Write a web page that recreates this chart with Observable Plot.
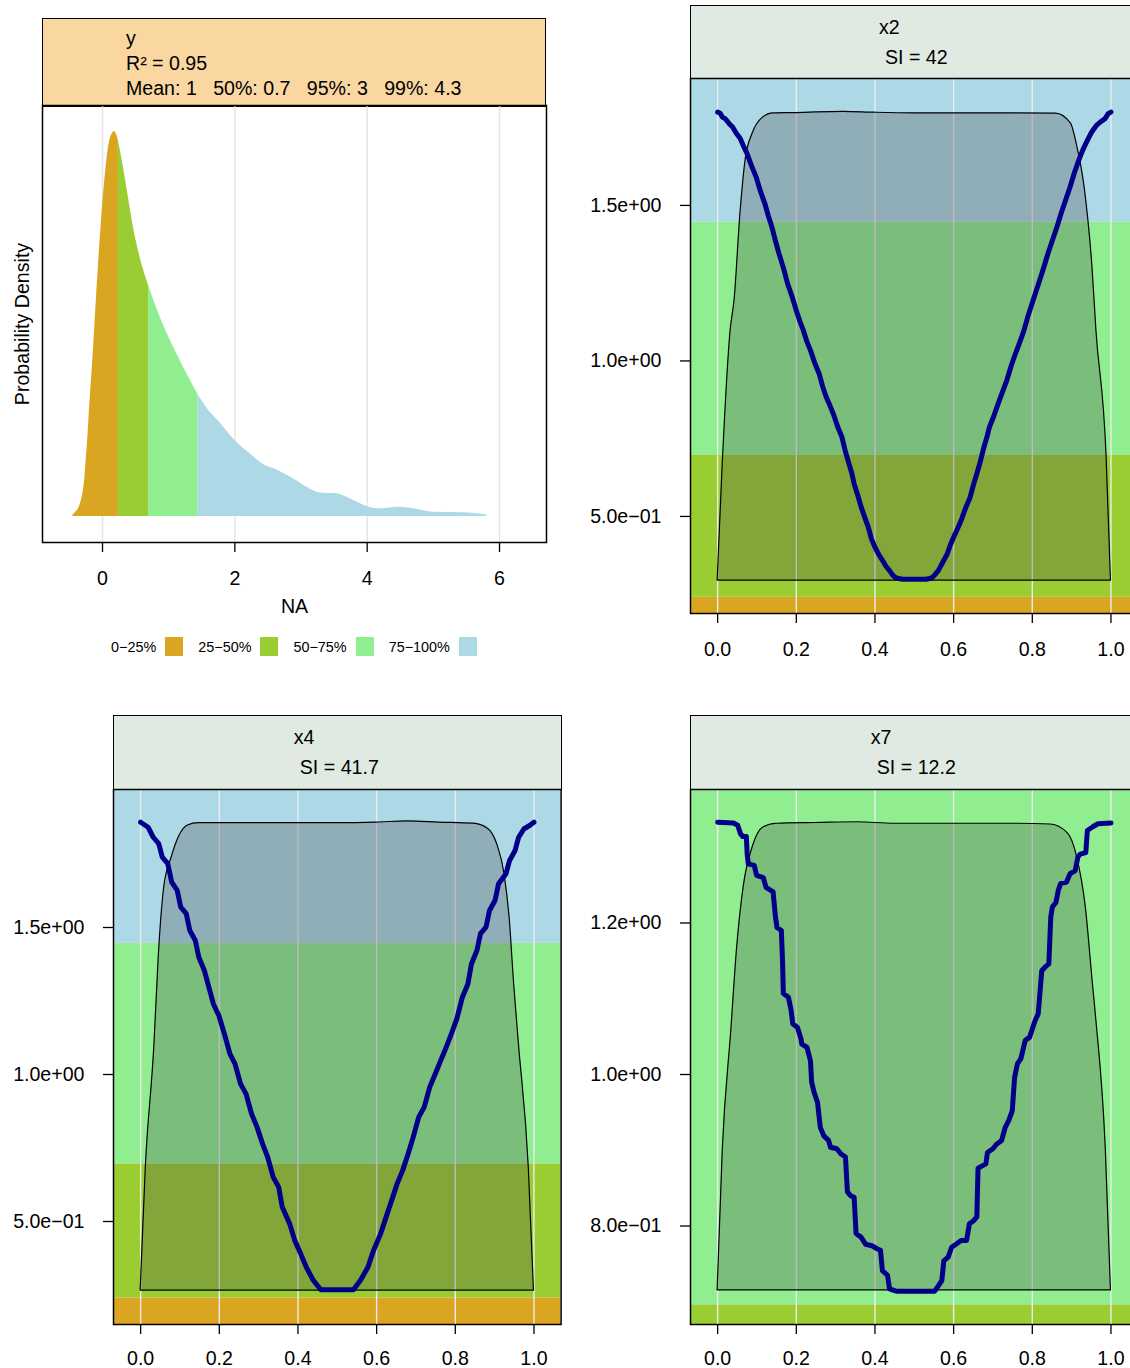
<!DOCTYPE html>
<html>
<head>
<meta charset="utf-8">
<script src="https://cdn.jsdelivr.net/npm/d3@7"></script>
<script src="https://cdn.jsdelivr.net/npm/@observablehq/plot@0.6"></script>
<style>
  html, body { margin: 0; padding: 0; background: #fff; overflow: hidden; }
  #root { position: relative; width: 1130px; height: 1368px; overflow: hidden;
          font-family: "Liberation Sans", Arial, sans-serif; color: #000; }
  #root svg { position: absolute; overflow: visible; }
  .hdr { position: absolute; box-sizing: border-box; border: 1.5px solid #000; }
  .txt { position: absolute; white-space: pre; font-size: 19.6px; line-height: 19.6px; }
  .legend { position: absolute; display: flex; align-items: center; height: 19px; font-size: 14.4px; }
  .legend .sw { width: 18px; height: 19px; margin-left: 9px; margin-right: 15px; }
</style>
</head>
<body>
<div id="root"></div>
<script>
// ---------------- data ----------------
// quantiles of y (0%, 25%, 50%, 75%, 100%)
const quantiles = [-0.45, 0.24, 0.696, 1.446, 5.81];
const quantileLabels = ["0\u221225%", "25\u221250%", "50\u221275%", "75\u2212100%"];
const quantileColors = ["#DAA520", "#9ACD32", "#90EE90", "#ADD8E6"];

// density of y : [y value, relative density]
const densityPoints = [
  [-0.450,0.000],[-0.440,0.005],[-0.410,0.010],[-0.364,0.020],[-0.330,0.035],[-0.298,0.059],
  [-0.270,0.095],[-0.248,0.145],[-0.220,0.210],[-0.198,0.275],[-0.147,0.405],[-0.097,0.552],
  [-0.047,0.691],[0.004,0.812],[0.054,0.907],[0.104,0.972],[0.150,0.995],[0.180,1.000],
  [0.210,0.993],[0.240,0.977],[0.316,0.907],[0.391,0.829],[0.467,0.751],[0.568,0.673],
  [0.696,0.600],[0.870,0.518],[1.072,0.440],[1.274,0.371],[1.446,0.316],[1.576,0.282],
  [1.777,0.243],[2.004,0.197],[2.231,0.163],[2.432,0.135],[2.634,0.121],[2.885,0.098],
  [3.087,0.076],[3.289,0.061],[3.541,0.059],[3.742,0.046],[3.994,0.026],[4.195,0.020],
  [4.497,0.024],[4.699,0.020],[5.000,0.011],[5.454,0.010],[5.810,0.004]
];
const densityTicks = [0, 2, 4, 6];
const densityXLabel = "NA";
const densityYLabel = "Probability Density";
const responseName = "y";
const rSquared = 0.95;
const responseMean = 1;
const responseQ50 = 0.7;
const responseQ95 = 3;
const responseQ99 = 4.3;

const xTicks = [0, 0.2, 0.4, 0.6, 0.8, 1.0];
const panelNames = ["x2", "x4", "x7"];
const panelSI = [42, 41.7, 12.2];
const yTicksA = [0.5, 1.0, 1.5];
const yTickLabelsA = ["5.0e\u221201", "1.0e+00", "1.5e+00"];
const yTicksB = [0.8, 1.0, 1.2];
const yTickLabelsB = ["8.0e\u221201", "1.0e+00", "1.2e+00"];

// x2: partial dependence curve and scaled density outline
const x2Curve = [
  [0.000,1.800],[0.006,1.797],[0.012,1.784],[0.020,1.778],[0.030,1.762],[0.038,1.752],[0.047,1.733],
  [0.057,1.716],[0.066,1.690],[0.075,1.666],[0.086,1.628],[0.098,1.591],[0.109,1.545],[0.120,1.506],
  [0.129,1.466],[0.138,1.430],[0.147,1.386],[0.156,1.345],[0.167,1.300],[0.178,1.248],[0.189,1.208],
  [0.200,1.162],[0.210,1.124],[0.218,1.098],[0.227,1.062],[0.236,1.034],[0.247,0.993],[0.258,0.959],
  [0.267,0.918],[0.276,0.884],[0.285,0.858],[0.294,0.830],[0.305,0.789],[0.316,0.755],[0.325,0.708],
  [0.334,0.669],[0.341,0.640],[0.347,0.605],[0.356,0.569],[0.365,0.530],[0.374,0.497],[0.383,0.466],
  [0.391,0.428],[0.400,0.401],[0.410,0.377],[0.419,0.359],[0.428,0.340],[0.437,0.326],[0.446,0.310],
  [0.454,0.302],[0.470,0.298],[0.530,0.298],[0.544,0.302],[0.552,0.312],[0.561,0.326],[0.572,0.352],
  [0.584,0.380],[0.592,0.410],[0.600,0.433],[0.609,0.458],[0.619,0.487],[0.630,0.526],[0.642,0.562],
  [0.650,0.600],[0.659,0.637],[0.668,0.677],[0.677,0.723],[0.684,0.752],[0.691,0.787],[0.702,0.822],
  [0.713,0.862],[0.724,0.900],[0.735,0.937],[0.746,0.983],[0.757,1.023],[0.767,1.056],[0.778,1.095],
  [0.790,1.148],[0.802,1.195],[0.815,1.245],[0.829,1.300],[0.840,1.346],[0.851,1.387],[0.862,1.428],
  [0.873,1.473],[0.885,1.518],[0.896,1.559],[0.907,1.605],[0.918,1.645],[0.929,1.680],[0.940,1.709],
  [0.951,1.736],[0.963,1.757],[0.975,1.770],[0.985,1.779],[0.993,1.795],[1.000,1.800]
];
const x2Outline = [
  [0.000,0.294],[0.013,0.670],[0.033,1.098],[0.043,1.195],[0.058,1.474],[0.071,1.645],[0.089,1.731],
  [0.116,1.783],[0.142,1.796],[0.200,1.797],[0.320,1.801],[0.400,1.798],[0.500,1.796],[0.600,1.796],
  [0.700,1.796],[0.860,1.795],[0.898,1.764],[0.915,1.686],[0.933,1.558],[0.953,1.300],[0.963,1.098],
  [0.989,0.690],[1.000,0.294]
];
const x4Curve = [
  [0.000,1.858],[0.019,1.841],[0.032,1.807],[0.046,1.785],[0.055,1.739],[0.069,1.717],[0.079,1.654],
  [0.093,1.626],[0.102,1.569],[0.116,1.547],[0.125,1.490],[0.139,1.456],[0.148,1.399],[0.162,1.354],
  [0.171,1.309],[0.185,1.240],[0.199,1.200],[0.213,1.138],[0.227,1.070],[0.240,1.036],[0.254,0.968],
  [0.268,0.934],[0.282,0.866],[0.296,0.821],[0.310,0.764],[0.323,0.719],[0.337,0.651],[0.351,0.617],
  [0.360,0.549],[0.379,0.492],[0.392,0.435],[0.407,0.390],[0.421,0.345],[0.439,0.300],[0.458,0.268],
  [0.541,0.268],[0.559,0.300],[0.578,0.345],[0.592,0.401],[0.610,0.458],[0.624,0.515],[0.638,0.571],
  [0.652,0.628],[0.666,0.673],[0.680,0.730],[0.693,0.787],[0.707,0.855],[0.721,0.889],[0.735,0.957],
  [0.749,1.002],[0.763,1.048],[0.777,1.093],[0.790,1.138],[0.804,1.190],[0.818,1.263],[0.832,1.308],
  [0.841,1.376],[0.855,1.422],[0.864,1.479],[0.878,1.501],[0.887,1.558],[0.901,1.592],[0.910,1.649],
  [0.929,1.683],[0.938,1.728],[0.952,1.762],[0.961,1.807],[0.975,1.836],[0.989,1.847],[1.000,1.858]
];
const x4Outline = [
  [0.000,0.265],[0.013,0.680],[0.035,1.100],[0.046,1.400],[0.060,1.637],[0.079,1.739],[0.097,1.807],
  [0.120,1.847],[0.148,1.855],[0.300,1.855],[0.500,1.855],[0.600,1.857],[0.680,1.861],[0.760,1.857],
  [0.846,1.853],[0.883,1.836],[0.906,1.785],[0.925,1.683],[0.938,1.535],[0.950,1.300],[0.962,1.100],
  [0.987,0.680],[1.000,0.265]
];
const x7Curve = [
  [0.000,1.333],[0.040,1.332],[0.051,1.329],[0.058,1.318],[0.064,1.314],[0.073,1.314],[0.075,1.291],
  [0.078,1.278],[0.093,1.276],[0.099,1.263],[0.116,1.260],[0.123,1.247],[0.141,1.241],[0.147,1.208],
  [0.151,1.194],[0.162,1.190],[0.165,1.150],[0.167,1.107],[0.180,1.102],[0.187,1.084],[0.191,1.067],
  [0.203,1.062],[0.212,1.047],[0.214,1.040],[0.227,1.036],[0.236,1.018],[0.239,0.990],[0.245,0.977],
  [0.254,0.963],[0.261,0.930],[0.270,0.919],[0.282,0.913],[0.287,0.904],[0.303,0.902],[0.314,0.895],
  [0.325,0.891],[0.330,0.845],[0.338,0.840],[0.347,0.838],[0.352,0.790],[0.365,0.785],[0.376,0.776],
  [0.392,0.774],[0.405,0.770],[0.414,0.768],[0.419,0.741],[0.432,0.735],[0.437,0.717],[0.454,0.714],
  [0.552,0.714],[0.561,0.721],[0.570,0.728],[0.575,0.754],[0.586,0.759],[0.595,0.772],[0.606,0.776],
  [0.619,0.781],[0.633,0.781],[0.640,0.803],[0.651,0.807],[0.659,0.812],[0.662,0.876],[0.668,0.878],
  [0.682,0.882],[0.686,0.897],[0.700,0.902],[0.709,0.908],[0.722,0.913],[0.731,0.930],[0.740,0.939],
  [0.749,0.952],[0.755,0.996],[0.762,1.014],[0.771,1.021],[0.782,1.045],[0.793,1.049],[0.807,1.071],
  [0.815,1.080],[0.820,1.111],[0.824,1.137],[0.833,1.142],[0.842,1.146],[0.847,1.208],[0.851,1.221],
  [0.860,1.227],[0.866,1.243],[0.872,1.252],[0.887,1.254],[0.896,1.265],[0.909,1.269],[0.916,1.287],
  [0.922,1.291],[0.936,1.293],[0.940,1.322],[0.954,1.327],[0.967,1.331],[1.000,1.332]
];
const x7Outline = [
  [0.000,0.715],[0.013,0.900],[0.035,1.060],[0.049,1.164],[0.066,1.247],[0.089,1.300],[0.116,1.326],
  [0.151,1.331],[0.250,1.332],[0.356,1.333],[0.450,1.331],[0.600,1.331],[0.750,1.331],[0.847,1.330],
  [0.891,1.318],[0.914,1.287],[0.936,1.221],[0.954,1.120],[0.963,1.071],[0.987,0.900],[1.000,0.715]
];

// ---------------- layout helpers ----------------
const root = document.getElementById("root");
const FONT = '"Liberation Sans", Arial, sans-serif';
const FS = 19.6;
const ctx = document.createElement("canvas").getContext("2d");
ctx.font = `${FS}px "Liberation Sans"`;
const textWidth = s => ctx.measureText(s).width;

function addHeader(left, top, width, height, bg) {
  const d = document.createElement("div");
  d.className = "hdr";
  Object.assign(d.style, {left: left + "px", top: top + "px", width: width + "px", height: height + "px", background: bg});
  root.appendChild(d);
}
function addText(s, left, baseline) {
  const t = document.createElement("div");
  t.className = "txt";
  t.textContent = s;
  Object.assign(t.style, {left: left + "px", top: (baseline - 16.4) + "px"});
  root.appendChild(t);
}
function place(svg, left, top) {
  svg.style.left = left + "px";
  svg.style.top = top + "px";
  root.appendChild(svg);
}

const bands = quantileColors.map((c, i) => ({lo: quantiles[i], hi: quantiles[i + 1], color: c}));
const style = {fontFamily: FONT, fontSize: FS + "px", color: "#000", background: "transparent", overflow: "visible"};

// ---------------- density panel ----------------
const segments = quantileColors.map((c, i) => ({
  color: c,
  pts: densityPoints.filter(p => p[0] >= quantiles[i] - 1e-9 && p[0] <= quantiles[i + 1] + 1e-9)
}));

const densityPlot = Plot.plot({
  width: 560, height: 2 + 437 + 80,
  marginLeft: 42, marginRight: 14, marginTop: 2, marginBottom: 80,
  x: {domain: [-0.907, 6.71]},
  y: {domain: [-0.0675, 1.0675], axis: null},
  style,
  marks: [
    Plot.ruleX(densityTicks, {stroke: "#e5e5e5", strokeWidth: 1.5}),
    ...segments.map(s => Plot.areaY(s.pts, {x: d => d[0], y1: 0, y2: d => d[1], fill: s.color, curve: "monotone-x"})),
    Plot.frame({stroke: "#000", strokeWidth: 1.5}),
    Plot.axisX(densityTicks, {tickSize: 10, tickPadding: 19, strokeWidth: 1.3, fontSize: FS, label: null, tickFormat: d => String(d)}),
    Plot.text([densityXLabel], {frameAnchor: "bottom", lineAnchor: "middle", dy: 64, text: d => d, fontSize: FS}),
    Plot.text([densityYLabel], {frameAnchor: "left", textAnchor: "middle", lineAnchor: "middle", dx: -20, rotate: -90, text: d => d, fontSize: FS})
  ]
});
addHeader(42, 18, 504, 88.5, "#FAD6A0");
place(densityPlot, 0, 103);
addText(responseName, 126, 45);
addText(`R\u00B2 = ${rSquared}`, 126, 70);
addText(`Mean: ${responseMean}   50%: ${responseQ50}   95%: ${responseQ95}   99%: ${responseQ99}`, 126, 95.5);

// legend
const lg = document.createElement("div");
lg.className = "legend";
Object.assign(lg.style, {left: "111px", top: "637px"});
quantileLabels.forEach((l, i) => {
  const s = document.createElement("span");
  s.textContent = l;
  const sw = document.createElement("span");
  sw.className = "sw";
  sw.style.background = quantileColors[i];
  lg.appendChild(s);
  lg.appendChild(sw);
});
root.appendChild(lg);

// ---------------- partial plots ----------------
function xPanel({name, si, curve, outline, yTicks, yLabels, yDomain, svgLeft, svgTop, marginLeft, hdrLeft, hdrTop, width, marginBottom, xPad}) {
  const frameW = 447.6;
  const plot = Plot.plot({
    width, height: 2 + 535 + marginBottom,
    marginLeft, marginRight: width - marginLeft - frameW, marginTop: 2, marginBottom,
    x: {domain: [-0.069, 1.069]},
    y: {domain: yDomain},
    style,
    marks: [
      ...bands.map(b => Plot.rect([b], {y1: d => d.lo, y2: d => d.hi, fill: b.color, clip: true})),
      Plot.ruleX(xTicks, {stroke: "#ececec", strokeWidth: 1.4}),
      Plot.areaY(outline, {x: d => d[0], y1: outline[0][1], y2: d => d[1], fill: "#4d4d4d", fillOpacity: 0.3,
                           stroke: "#000", strokeWidth: 1.2, curve: "monotone-x"}),
      Plot.line(curve, {x: d => d[0], y: d => d[1], stroke: "#00008B", strokeWidth: 5,
                        strokeLinejoin: "round", strokeLinecap: "round"}),
      Plot.frame({stroke: "#000", strokeWidth: 1.5}),
      Plot.axisX(xTicks, {tickSize: 10, tickPadding: xPad, strokeWidth: 1.3, fontSize: FS, label: null, tickFormat: d3.format(".1f")}),
      Plot.axisY(yTicks, {tickSize: 10, tickPadding: 19, strokeWidth: 1.3, fontSize: FS, label: null,
                          tickFormat: d => yLabels[yTicks.indexOf(d)]})
    ]
  });
  addHeader(hdrLeft, hdrTop, 449, svgTop + 2 - hdrTop + 0.5, "#E1EAE2");
  place(plot, svgLeft, svgTop);
  const center = hdrLeft + frameW / 2;
  const siText = `SI = ${si}`;
  const siLeft = center + 2.5 - textWidth(siText) / 2;
  addText(name, siLeft - 6, hdrTop + 29.5);
  addText(siText, siLeft, hdrTop + 59.5);
}

xPanel({name: panelNames[0], si: panelSI[0], curve: x2Curve, outline: x2Outline, yTicks: yTicksA, yLabels: yTickLabelsA,
        yDomain: [0.188, 1.908], svgLeft: 580, svgTop: 76, marginLeft: 110, hdrLeft: 690, hdrTop: 5, width: 570, marginBottom: 62, xPad: 19});
xPanel({name: panelNames[1], si: panelSI[1], curve: x4Curve, outline: x4Outline, yTicks: yTicksA, yLabels: yTickLabelsA,
        yDomain: [0.1497, 1.9694], svgLeft: 0, svgTop: 787, marginLeft: 113, hdrLeft: 113, hdrTop: 715, width: 575, marginBottom: 44, xPad: 17});
xPanel({name: panelNames[2], si: panelSI[2], curve: x7Curve, outline: x7Outline, yTicks: yTicksB, yLabels: yTickLabelsB,
        yDomain: [0.670, 1.3762], svgLeft: 580, svgTop: 787, marginLeft: 110, hdrLeft: 690, hdrTop: 715, width: 570, marginBottom: 44, xPad: 17});
</script>
</body>
</html>
